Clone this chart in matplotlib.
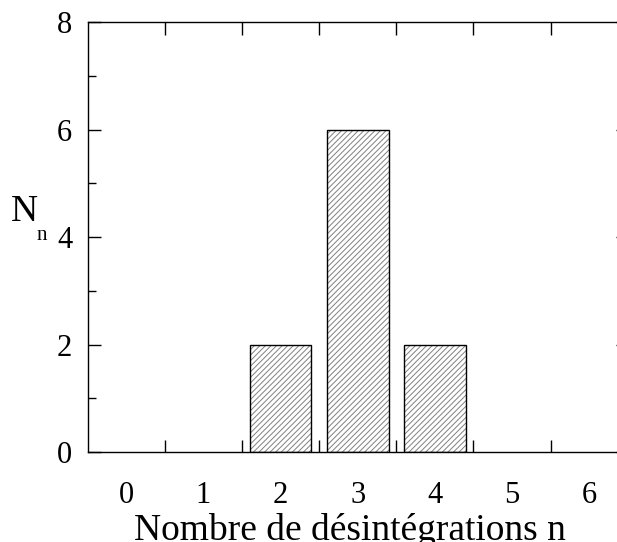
import matplotlib
matplotlib.use('Agg')
from matplotlib import pyplot as plt
import numpy as np

# nombre de désintégrations n et nombre d'intervalles N_n
n_values = [0, 1, 2, 3, 4, 5, 6]
counts = [0, 0, 2, 6, 2, 0, 0]
x_tick_labels = ['0', '1', '2', '3', '4', '5', '6']
y_ticks = [0, 2, 4, 6, 8]

plt.rcParams['font.family'] = ['Liberation Serif', 'DejaVu Serif']
plt.rcParams['hatch.linewidth'] = 0.7

fig = plt.figure(figsize=(6.17, 5.42), dpi=100)
ax = fig.add_axes([0.142, 0.166, 0.8755, 0.7934])

# barres hachurées (hachures grises, contour noir)
nz = [i for i, c in enumerate(counts) if c > 0]
xs = [n_values[i] for i in nz]
hs = [counts[i] for i in nz]
ax.bar(xs, hs, width=0.8, color='white', edgecolor='#808080', linewidth=0, hatch='//////')
ax.bar(xs, hs, width=0.8, fill=False, edgecolor='black', linewidth=1.0)

ax.set_xlim(-0.5, 6.5)
ax.set_ylim(0, 8)

# graduations
ax.set_xticks(np.arange(0.5, 6.5, 1.0))
ax.set_xticklabels([])
ax.set_xticks(n_values, minor=True)
ax.set_xticklabels(x_tick_labels, minor=True)
ax.tick_params(axis='x', which='major', direction='in', length=9, width=1, top=True, bottom=True)
ax.tick_params(axis='x', which='minor', length=0, pad=21, labelsize=22)

ax.set_yticks(y_ticks)
ax.set_yticks([1, 3, 5, 7], minor=True)
ax.tick_params(axis='y', which='major', direction='in', length=9, width=1, left=True, right=True, labelsize=22, pad=11)
ax.tick_params(axis='y', which='minor', direction='in', length=5.5, width=1, left=True, right=False)

for s in ax.spines.values():
    s.set_linewidth(1.0)

ax.set_xlabel('Nombre de désintégrations n', fontsize=27, labelpad=2)
ax.xaxis.label.set_x(0.486)
fig.text(0.018, 0.61, 'N', fontsize=27, va='center', ha='left')
fig.text(0.06, 0.566, 'n', fontsize=15, va='center', ha='left')

fig.savefig('out.png', dpi=100)
